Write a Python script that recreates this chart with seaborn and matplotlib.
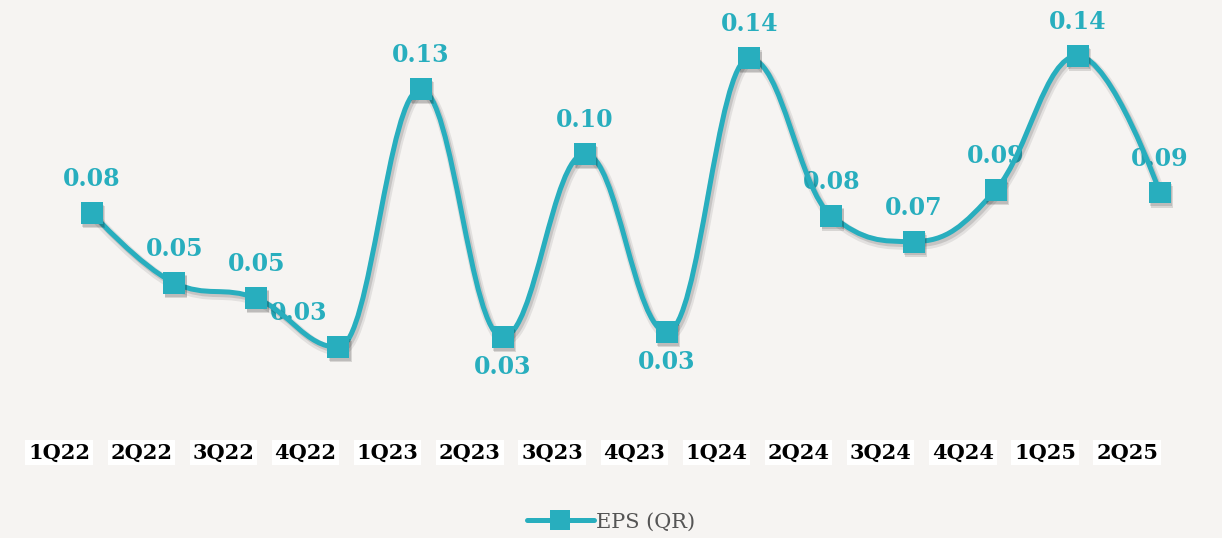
import numpy as np
import pandas as pd
import matplotlib
matplotlib.use("Agg")
import matplotlib.pyplot as plt
import seaborn as sns
from matplotlib.path import Path
from matplotlib.patches import PathPatch
import matplotlib.patheffects as pe
from matplotlib.lines import Line2D

quarters = ["1Q22", "2Q22", "3Q22", "4Q22", "1Q23", "2Q23", "3Q23", "4Q23",
            "1Q24", "2Q24", "3Q24", "4Q24", "1Q25", "2Q25"]
eps = [0.079, 0.052, 0.046, 0.027, 0.127, 0.031, 0.102, 0.033,
       0.139, 0.078, 0.068, 0.088, 0.140, 0.087]
series_name = "EPS (QR)"

COLOR = "#28AEBE"
BG = "#F6F4F2"

sns.set_theme(style="white")
plt.rcParams["font.family"] = ["DejaVu Serif"]

df = pd.DataFrame({"q": quarters, "x": np.arange(len(quarters)), "eps": eps})

fig = plt.figure(figsize=(12.22, 5.38), dpi=100, facecolor=BG)
ax = fig.add_axes([0, 0.2007, 1, 0.7993])
ax.set_facecolor(BG)


def hc_spline(xs, ys, smoothing=1.5):
    denom = smoothing + 1
    n = len(xs)
    lc = [(xs[i], ys[i]) for i in range(n)]
    rc = [(xs[i], ys[i]) for i in range(n)]
    for i in range(1, n - 1):
        px, py = xs[i], ys[i]
        lx, ly = xs[i - 1], ys[i - 1]
        nx, ny = xs[i + 1], ys[i + 1]
        lcx = (smoothing * px + lx) / denom
        lcy = (smoothing * py + ly) / denom
        rcx = (smoothing * px + nx) / denom
        rcy = (smoothing * py + ny) / denom
        if rcx != lcx:
            corr = ((rcy - lcy) * (rcx - px)) / (rcx - lcx) + py - rcy
            lcy += corr
            rcy += corr
        if lcy > ly and lcy > py:
            lcy = max(ly, py)
            rcy = 2 * py - lcy
        elif lcy < ly and lcy < py:
            lcy = min(ly, py)
            rcy = 2 * py - lcy
        if rcy > ny and rcy > py:
            rcy = max(ny, py)
            lcy = 2 * py - rcy
        elif rcy < ny and rcy < py:
            rcy = min(ny, py)
            lcy = 2 * py - rcy
        lc[i] = (lcx, lcy)
        rc[i] = (rcx, rcy)
    verts = [(xs[0], ys[0])]
    codes = [Path.MOVETO]
    for i in range(1, n):
        verts += [rc[i - 1], lc[i], (xs[i], ys[i])]
        codes += [Path.CURVE4] * 3
    return Path(verts, codes)


path = hc_spline(list(df["x"]), list(df["eps"]))
patch = PathPatch(path, facecolor="none", edgecolor=COLOR, lw=3.6,
                  capstyle="round", joinstyle="round", zorder=3)
patch.set_path_effects([
    pe.SimpleLineShadow(offset=(1.5, -2.5), shadow_color="black", alpha=0.08, linewidth=7),
    pe.SimpleLineShadow(offset=(1.5, -2.0), shadow_color="black", alpha=0.12, linewidth=4),
    pe.Normal()])
ax.add_patch(patch)

sns.scatterplot(data=df, x="x", y="eps", marker="s", s=250, color=COLOR,
                edgecolor="none", linewidth=0, ax=ax, zorder=4, legend=False)
for coll in ax.collections:
    coll.set_path_effects([
        pe.SimplePatchShadow(offset=(1.5, -3.0), shadow_rgbFace="black", alpha=0.12),
        pe.SimplePatchShadow(offset=(1.0, -2.0), shadow_rgbFace="black", alpha=0.12),
        pe.Normal()])

# data labels
below = {5, 7}
xshift = {3: -0.48}
for i, v in enumerate(eps):
    dy = -30 if i in below else 34
    ax.annotate(f"{v:.2f}", (i + xshift.get(i, 0), v), xytext=(0, dy),
                textcoords="offset pixels", ha="center", va="center",
                color=COLOR, fontsize=17, fontweight="bold",
                family=["DejaVu Serif"], zorder=2)

ax.set_xlim(-1.12, 13.755)
ax.set_ylim(-0.00504, 0.1616)
ax.set_xticks(np.arange(len(quarters)) - 0.40)
ax.set_xticklabels(quarters, fontsize=15, fontweight="bold", color="black")
ax.tick_params(axis="x", length=0, pad=9)
for lab in ax.get_xticklabels():
    lab.set_bbox(dict(facecolor="white", edgecolor="none", pad=2.0))
ax.set_yticks([])
ax.set_xlabel("")
ax.set_ylabel("")
for s in ax.spines.values():
    s.set_visible(False)

handle = Line2D([0], [0], color=COLOR, lw=3.6, marker="s", markersize=15,
                markeredgewidth=0, solid_capstyle="round")
fig.legend([handle], [series_name], loc="center", bbox_to_anchor=(0.5, 0.03),
           frameon=False, labelcolor="#555555", handlelength=3.2,
           handletextpad=0.1, prop={"family": "DejaVu Serif", "size": 15})

fig.savefig("out.png", dpi=100, facecolor=BG)
